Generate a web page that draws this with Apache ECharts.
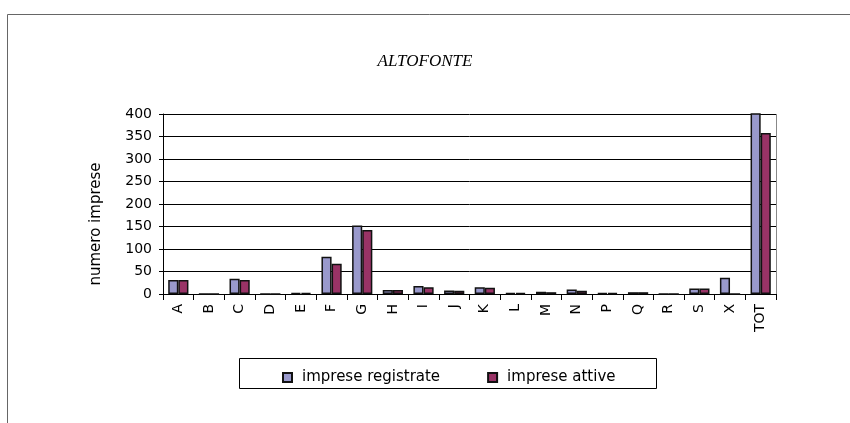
<!DOCTYPE html>
<html><head><meta charset="utf-8">
<script src="https://cdn.jsdelivr.net/npm/echarts@6/dist/echarts.min.js"></script>
<style>html,body{margin:0;padding:0;background:#fff}#c{width:850px;height:423px}</style>
</head><body><div id="c"></div>
<script>
var categories = ['A','B','C','D','E','F','G','H','I','J','K','L','M','N','P','Q','R','S','X','TOT'];
var registrate = [31,0,34,0,2,83,152,9,18,8,15,2,5,10,2,4,0,12,36,423];
var attive     = [31,0,31,0,2,67,142,9,15,7,14,2,4,7,2,4,0,12,0,358];
var yTicks = [0,50,100,150,200,250,300,350,400];
var seriesNames = ['imprese registrate','imprese attive'];
var yName = 'numero imprese';

var FONT = 'DejaVu Sans';
var chart = echarts.init(document.getElementById('c'), null, {renderer:'canvas'});
chart.setOption({
  animation:false,
  backgroundColor:'#fff',
  title:{text:'ALTOFONTE', left:'center', top:48,
    textStyle:{fontFamily:'Liberation Serif', fontStyle:'italic', fontWeight:'normal', fontSize:17, color:'#000'}},
  graphic:[
    {type:'rect', shape:{x:7.5,y:14.5,width:900,height:500}, style:{fill:null, stroke:'#666', lineWidth:1}, silent:true, z:-1},
    {type:'rect', shape:{x:239.5,y:358.5,width:417,height:30}, style:{fill:null, stroke:'#000', lineWidth:1}, silent:true},
    {type:'line', shape:{x1:776.5,y1:114,x2:776.5,y2:294}, style:{stroke:'#888', lineWidth:1}, silent:true},
    {type:'text', x:96, y:224, rotation:Math.PI/2,
      style:{text:yName, font:'15px "DejaVu Sans"', fill:'#000', align:'center', verticalAlign:'middle'}, silent:true}
  ],
  legend:{left:277, top:365, itemWidth:9, itemHeight:9, itemGap:47, icon:'rect',
    textStyle:{fontFamily:FONT, fontSize:15, color:'#000', padding:[0,0,0,5]},
    data:seriesNames},
  grid:{left:163, top:114, width:613, height:180},
  xAxis:{type:'category', data:categories,
    axisLine:{lineStyle:{color:'#000', width:1}},
    axisTick:{show:true, length:6, lineStyle:{color:'#000'}},
    axisLabel:{rotate:90, fontFamily:FONT, fontSize:14, color:'#000', margin:10, interval:0}},
  yAxis:{type:'value', min:0, max:400, interval:50,
    axisLine:{show:true, lineStyle:{color:'#000'}},
    axisTick:{show:true, length:4, lineStyle:{color:'#000'}},
    axisLabel:{fontFamily:FONT, fontSize:14, color:'#000', margin:11,
      formatter:function(v){return yTicks.indexOf(v)>=0?String(v):'';}},
    splitLine:{lineStyle:{color:'#000', width:1}}},
  series:[
    {name:seriesNames[0], type:'bar', data:registrate, barGap:'0%', barCategoryGap:'34%',
      itemStyle:{color:'#9999CC', borderColor:'#111', borderWidth:1.5}},
    {name:seriesNames[1], type:'bar', data:attive, barGap:'0%', barCategoryGap:'34%',
      itemStyle:{color:'#993366', borderColor:'#111', borderWidth:1.5}}
  ]
});
</script></body></html>
